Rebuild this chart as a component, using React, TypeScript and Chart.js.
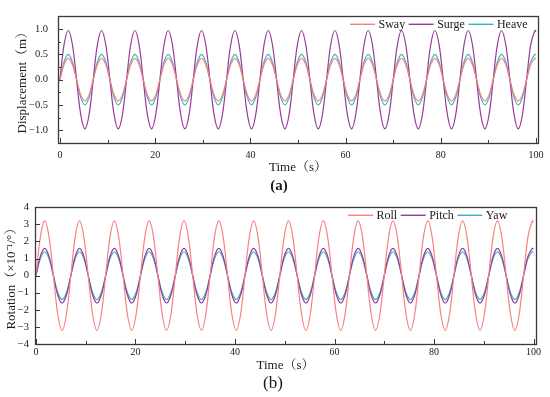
import React, { useEffect, useRef } from "react";
import { Chart, registerables } from "chart.js";
Chart.register(...registerables);

// ---------- data ----------
const TIME = [
  0, 0.875, 1.75, 2.625, 3.5, 4.375, 5.25, 6.125,
  7, 7.875, 8.75, 9.625, 10.5, 11.375, 12.25, 13.125,
  14, 14.875, 15.75, 16.625, 17.5, 18.375, 19.25, 20.125,
  21, 21.875, 22.75, 23.625, 24.5, 25.375, 26.25, 27.125,
  28, 28.875, 29.75, 30.625, 31.5, 32.375, 33.25, 34.125,
  35, 35.875, 36.75, 37.625, 38.5, 39.375, 40.25, 41.125,
  42, 42.875, 43.75, 44.625, 45.5, 46.375, 47.25, 48.125,
  49, 49.875, 50.75, 51.625, 52.5, 53.375, 54.25, 55.125,
  56, 56.875, 57.75, 58.625, 59.5, 60.375, 61.25, 62.125,
  63, 63.875, 64.75, 65.625, 66.5, 67.375, 68.25, 69.125,
  70, 70.875, 71.75, 72.625, 73.5, 74.375, 75.25, 76.125,
  77, 77.875, 78.75, 79.625, 80.5, 81.375, 82.25, 83.125,
  84, 84.875, 85.75, 86.625, 87.5, 88.375, 89.25, 90.125,
  91, 91.875, 92.75, 93.625, 94.5, 95.375, 96.25, 97.125,
  98, 98.875, 99.75, 100,
];

const SWAY = [
  0, 0.3, 0.42, 0.3, 0, -0.3, -0.42, -0.3,
  0, 0.3, 0.42, 0.3, 0, -0.3, -0.42, -0.3,
  0, 0.3, 0.42, 0.3, 0, -0.3, -0.42, -0.3,
  0, 0.3, 0.42, 0.3, 0, -0.3, -0.42, -0.3,
  0, 0.3, 0.42, 0.3, 0, -0.3, -0.42, -0.3,
  0, 0.3, 0.42, 0.3, 0, -0.3, -0.42, -0.3,
  0, 0.3, 0.42, 0.3, 0, -0.3, -0.42, -0.3,
  0, 0.3, 0.42, 0.3, 0, -0.3, -0.42, -0.3,
  0, 0.3, 0.42, 0.3, 0, -0.3, -0.42, -0.3,
  0, 0.3, 0.42, 0.3, 0, -0.3, -0.42, -0.3,
  0, 0.3, 0.42, 0.3, 0, -0.3, -0.42, -0.3,
  0, 0.3, 0.42, 0.3, 0, -0.3, -0.42, -0.3,
  0, 0.3, 0.42, 0.3, 0, -0.3, -0.42, -0.3,
  0, 0.3, 0.42, 0.3, 0, -0.3, -0.42, -0.3,
  0, 0.3, 0.42, 0.41,
];

const SURGE = [
  0, 0.69, 0.97, 0.69, 0, -0.69, -0.97, -0.69,
  0, 0.69, 0.97, 0.69, 0, -0.69, -0.97, -0.69,
  0, 0.69, 0.97, 0.69, 0, -0.69, -0.97, -0.69,
  0, 0.69, 0.97, 0.69, 0, -0.69, -0.97, -0.69,
  0, 0.69, 0.97, 0.69, 0, -0.69, -0.97, -0.69,
  0, 0.69, 0.97, 0.69, 0, -0.69, -0.97, -0.69,
  0, 0.69, 0.97, 0.69, 0, -0.69, -0.97, -0.69,
  0, 0.69, 0.97, 0.69, 0, -0.69, -0.97, -0.69,
  0, 0.69, 0.97, 0.69, 0, -0.69, -0.97, -0.69,
  0, 0.69, 0.97, 0.69, 0, -0.69, -0.97, -0.69,
  0, 0.69, 0.97, 0.69, 0, -0.69, -0.97, -0.69,
  0, 0.69, 0.97, 0.69, 0, -0.69, -0.97, -0.69,
  0, 0.69, 0.97, 0.69, 0, -0.69, -0.97, -0.69,
  0, 0.69, 0.97, 0.69, 0, -0.69, -0.97, -0.69,
  0, 0.69, 0.97, 0.95,
];

const HEAVE = [
  0, 0.35, 0.5, 0.35, 0, -0.35, -0.5, -0.35,
  0, 0.35, 0.5, 0.35, 0, -0.35, -0.5, -0.35,
  0, 0.35, 0.5, 0.35, 0, -0.35, -0.5, -0.35,
  0, 0.35, 0.5, 0.35, 0, -0.35, -0.5, -0.35,
  0, 0.35, 0.5, 0.35, 0, -0.35, -0.5, -0.35,
  0, 0.35, 0.5, 0.35, 0, -0.35, -0.5, -0.35,
  0, 0.35, 0.5, 0.35, 0, -0.35, -0.5, -0.35,
  0, 0.35, 0.5, 0.35, 0, -0.35, -0.5, -0.35,
  0, 0.35, 0.5, 0.35, 0, -0.35, -0.5, -0.35,
  0, 0.35, 0.5, 0.35, 0, -0.35, -0.5, -0.35,
  0, 0.35, 0.5, 0.35, 0, -0.35, -0.5, -0.35,
  0, 0.35, 0.5, 0.35, 0, -0.35, -0.5, -0.35,
  0, 0.35, 0.5, 0.35, 0, -0.35, -0.5, -0.35,
  0, 0.35, 0.5, 0.35, 0, -0.35, -0.5, -0.35,
  0, 0.35, 0.5, 0.49,
];

const ROLL = [
  0, 2.26, 3.2, 2.26, 0, -2.26, -3.2, -2.26,
  0, 2.26, 3.2, 2.26, 0, -2.26, -3.2, -2.26,
  0, 2.26, 3.2, 2.26, 0, -2.26, -3.2, -2.26,
  0, 2.26, 3.2, 2.26, 0, -2.26, -3.2, -2.26,
  0, 2.26, 3.2, 2.26, 0, -2.26, -3.2, -2.26,
  0, 2.26, 3.2, 2.26, 0, -2.26, -3.2, -2.26,
  0, 2.26, 3.2, 2.26, 0, -2.26, -3.2, -2.26,
  0, 2.26, 3.2, 2.26, 0, -2.26, -3.2, -2.26,
  0, 2.26, 3.2, 2.26, 0, -2.26, -3.2, -2.26,
  0, 2.26, 3.2, 2.26, 0, -2.26, -3.2, -2.26,
  0, 2.26, 3.2, 2.26, 0, -2.26, -3.2, -2.26,
  0, 2.26, 3.2, 2.26, 0, -2.26, -3.2, -2.26,
  0, 2.26, 3.2, 2.26, 0, -2.26, -3.2, -2.26,
  0, 2.26, 3.2, 2.26, 0, -2.26, -3.2, -2.26,
  0, 2.26, 3.2, 3.12,
];

const PITCH = [
  0, 1.13, 1.6, 1.13, 0, -1.13, -1.6, -1.13,
  0, 1.13, 1.6, 1.13, 0, -1.13, -1.6, -1.13,
  0, 1.13, 1.6, 1.13, 0, -1.13, -1.6, -1.13,
  0, 1.13, 1.6, 1.13, 0, -1.13, -1.6, -1.13,
  0, 1.13, 1.6, 1.13, 0, -1.13, -1.6, -1.13,
  0, 1.13, 1.6, 1.13, 0, -1.13, -1.6, -1.13,
  0, 1.13, 1.6, 1.13, 0, -1.13, -1.6, -1.13,
  0, 1.13, 1.6, 1.13, 0, -1.13, -1.6, -1.13,
  0, 1.13, 1.6, 1.13, 0, -1.13, -1.6, -1.13,
  0, 1.13, 1.6, 1.13, 0, -1.13, -1.6, -1.13,
  0, 1.13, 1.6, 1.13, 0, -1.13, -1.6, -1.13,
  0, 1.13, 1.6, 1.13, 0, -1.13, -1.6, -1.13,
  0, 1.13, 1.6, 1.13, 0, -1.13, -1.6, -1.13,
  0, 1.13, 1.6, 1.13, 0, -1.13, -1.6, -1.13,
  0, 1.13, 1.6, 1.56,
];

const YAW = [
  0, 0.99, 1.4, 0.99, 0, -0.99, -1.4, -0.99,
  0, 0.99, 1.4, 0.99, 0, -0.99, -1.4, -0.99,
  0, 0.99, 1.4, 0.99, 0, -0.99, -1.4, -0.99,
  0, 0.99, 1.4, 0.99, 0, -0.99, -1.4, -0.99,
  0, 0.99, 1.4, 0.99, 0, -0.99, -1.4, -0.99,
  0, 0.99, 1.4, 0.99, 0, -0.99, -1.4, -0.99,
  0, 0.99, 1.4, 0.99, 0, -0.99, -1.4, -0.99,
  0, 0.99, 1.4, 0.99, 0, -0.99, -1.4, -0.99,
  0, 0.99, 1.4, 0.99, 0, -0.99, -1.4, -0.99,
  0, 0.99, 1.4, 0.99, 0, -0.99, -1.4, -0.99,
  0, 0.99, 1.4, 0.99, 0, -0.99, -1.4, -0.99,
  0, 0.99, 1.4, 0.99, 0, -0.99, -1.4, -0.99,
  0, 0.99, 1.4, 0.99, 0, -0.99, -1.4, -0.99,
  0, 0.99, 1.4, 0.99, 0, -0.99, -1.4, -0.99,
  0, 0.99, 1.4, 1.37,
];

const NAMES_A = ["Sway", "Surge", "Heave"];
const NAMES_B = ["Roll", "Pitch", "Yaw"];
const COLORS = ["#F88282", "#9A3A9A", "#38B5BD"];

const X_TICKS = [0, 20, 40, 60, 80, 100];
const X_MINOR = [10, 30, 50, 70, 90];
const X_LABELS = ["0", "20", "40", "60", "80", "100"];

const YA_TICKS = [-1, -0.5, 0, 0.5, 1];
const YA_MINOR = [-0.75, -0.25, 0.25, 0.75];
const YA_LABELS = ["\u22121.0", "\u22120.5", "0.0", "0.5", "1.0"];

const YB_TICKS = [-4, -3, -2, -1, 0, 1, 2, 3, 4];
const YB_LABELS = ["\u22124", "\u22123", "\u22122", "\u22121", "0", "1", "2", "3", "4"];

// ---------- styling ----------
const SERIF = '"Liberation Serif", "Times New Roman", "Noto Serif CJK SC", serif';
const TEXT = "#1a1a1a";
const AXIS = "#3a3a3a";

const frameTicksPlugin = {
  id: "frameTicks",
  afterDraw(chart: any, _args: any, opts: any) {
    const { ctx, chartArea: ca, scales } = chart;
    const xs = scales.x;
    const ys = scales.y;
    ctx.save();
    ctx.strokeStyle = AXIS;
    ctx.lineWidth = 1;
    const seg = (x1: number, y1: number, x2: number, y2: number) => {
      ctx.beginPath();
      ctx.moveTo(x1, y1);
      ctx.lineTo(x2, y2);
      ctx.stroke();
    };
    (opts.xMajor || []).forEach((v: number) => {
      const p = Math.round(xs.getPixelForValue(v)) + 0.5;
      seg(p, ca.bottom, p, ca.bottom - 5);
    });
    (opts.xMinor || []).forEach((v: number) => {
      const p = Math.round(xs.getPixelForValue(v)) + 0.5;
      seg(p, ca.bottom, p, ca.bottom - 3);
    });
    (opts.yMajor || []).forEach((v: number) => {
      const p = Math.round(ys.getPixelForValue(v)) + 0.5;
      seg(ca.left, p, ca.left + 5, p);
    });
    (opts.yMinor || []).forEach((v: number) => {
      const p = Math.round(ys.getPixelForValue(v)) + 0.5;
      seg(ca.left, p, ca.left + 3, p);
    });
    // frame
    ctx.lineWidth = 1.3;
    ctx.strokeRect(
      Math.round(ca.left) + 0.5,
      Math.round(ca.top) + 0.5,
      Math.round(ca.right) - Math.round(ca.left),
      Math.round(ca.bottom) - Math.round(ca.top)
    );
    // legend inside plot area
    ctx.font = `12px ${SERIF}`;
    ctx.textBaseline = "middle";
    ctx.textAlign = "left";
    let x = ca.right - opts.legendOffset;
    const y = ca.top + opts.legendDy;
    chart.data.datasets.forEach((ds: any) => {
      ctx.strokeStyle = ds.borderColor;
      ctx.lineWidth = 1.4;
      seg(x, y, x + 25, y);
      x += 28.5;
      ctx.fillStyle = TEXT;
      ctx.fillText(ds.label, x, y + 0.5);
      x += ctx.measureText(ds.label).width + 3.5;
    });
    ctx.restore();
  },
};

function makeConfig(p: any) {
  return {
    type: "line",
    data: {
      datasets: p.series.map((vals: number[], i: number) => ({
        label: p.names[i],
        data: TIME.map((t, k) => ({ x: t, y: vals[k] })),
        borderColor: COLORS[i],
        backgroundColor: COLORS[i],
        borderWidth: 1.2,
        pointRadius: 0,
        tension: 0.35,
        fill: false,
      })),
    },
    options: {
      animation: false,
      responsive: false,
      events: [],
      layout: { padding: { top: p.padTop, right: p.padRight, left: 0, bottom: 0 } },
      plugins: {
        legend: { display: false },
        tooltip: { enabled: false },
        frameTicks: {
          xMajor: X_TICKS,
          xMinor: X_MINOR,
          yMajor: p.yTicks,
          yMinor: p.yMinor,
          legendOffset: 188,
          legendDy: 8,
        },
      },
      scales: {
        x: {
          type: "linear",
          min: p.xMin,
          max: p.xMax,
          afterBuildTicks: (s: any) => {
            s.ticks = X_TICKS.map((v) => ({ value: v }));
          },
          afterFit: (s: any) => {
            s.height = p.xHeight;
          },
          grid: { display: false, drawTicks: false },
          border: { display: false },
          ticks: {
            autoSkip: false,
            maxRotation: 0,
            padding: p.xTickPad,
            color: TEXT,
            font: { family: SERIF, size: 10 },
            callback: (_v: any, i: number) => X_LABELS[i],
          },
          title: {
            display: true,
            text: "Time\uff08s\uff09",
            color: TEXT,
            font: { family: SERIF, size: 13 },
            padding: { top: 0, bottom: p.xTitlePad },
          },
        },
        y: {
          type: "linear",
          min: p.yMin,
          max: p.yMax,
          afterBuildTicks: (s: any) => {
            s.ticks = p.yTicks.map((v: number) => ({ value: v }));
          },
          afterFit: (s: any) => {
            s.width = p.yWidth;
          },
          grid: { display: false, drawTicks: false },
          border: { display: false },
          ticks: {
            padding: p.yTickPad,
            color: TEXT,
            font: { family: SERIF, size: 10.5 },
            callback: (_v: any, i: number) => p.yLabels[i],
          },
          title: {
            display: true,
            text: p.yTitle,
            color: TEXT,
            font: { family: SERIF, size: p.yTitleSize },
            padding: { top: p.yTitlePad, bottom: 0 },
          },
        },
      },
    },
    plugins: [frameTicksPlugin],
  } as any;
}

export default function App() {
  const refA = useRef<HTMLCanvasElement | null>(null);
  const refB = useRef<HTMLCanvasElement | null>(null);

  useEffect(() => {
    const a = new Chart(
      refA.current as HTMLCanvasElement,
      makeConfig({
        series: [SWAY, SURGE, HEAVE],
        names: NAMES_A,
        padTop: 5,
        padRight: 12,
        xMin: -0.4,
        xMax: 100.4,
        xHeight: 52,
        xTickPad: 6,
        xTitlePad: 20,
        yMin: -1.25,
        yMax: 1.25,
        yTicks: YA_TICKS,
        yMinor: YA_MINOR,
        yLabels: YA_LABELS,
        yWidth: 58,
        yTickPad: 10,
        yTitle: "Displacement\uff08m\uff09",
        yTitleSize: 13,
        yTitlePad: 15,
      })
    );
    const b = new Chart(
      refB.current as HTMLCanvasElement,
      makeConfig({
        series: [ROLL, PITCH, YAW],
        names: NAMES_B,
        padTop: 5,
        padRight: 14,
        xMin: -0.2,
        xMax: 100.5,
        xHeight: 31,
        xTickPad: 2,
        xTitlePad: 2,
        yMin: -4,
        yMax: 4,
        yTicks: YB_TICKS,
        yMinor: [],
        yLabels: YB_LABELS,
        yWidth: 35,
        yTickPad: 6,
        yTitle: "Rotation\uff08\u00d710\u207b\u00b9/\u00b0\uff09",
        yTitleSize: 13,
        yTitlePad: 4,
      })
    );
    return () => {
      a.destroy();
      b.destroy();
    };
  }, []);

  return (
    <div
      style={{
        position: "fixed",
        left: 0,
        top: 0,
        width: 550,
        height: 397,
        background: "#ffffff",
        overflow: "hidden",
      }}
    >
      <canvas
        ref={refA}
        width={550}
        height={195}
        style={{ position: "absolute", left: 0, top: 0, display: "block" }}
      />
      <canvas
        ref={refB}
        width={550}
        height={180}
        style={{ position: "absolute", left: 0, top: 195, display: "block" }}
      />
      <div
        style={{
          position: "absolute",
          left: 229,
          width: 100,
          top: 176,
          textAlign: "center",
          fontFamily: SERIF,
          fontWeight: "bold",
          fontSize: 15,
          lineHeight: "18px",
          color: TEXT,
        }}
      >
        (a)
      </div>
      <div
        style={{
          position: "absolute",
          left: 223,
          width: 100,
          top: 373,
          textAlign: "center",
          fontFamily: SERIF,
          fontSize: 17,
          lineHeight: "20px",
          color: TEXT,
        }}
      >
        (b)
      </div>
    </div>
  );
}
